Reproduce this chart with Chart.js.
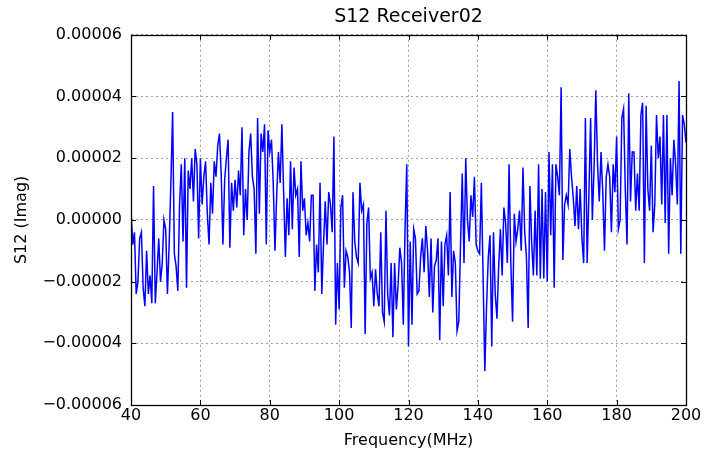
<!DOCTYPE html>
<html>
<head>
<meta charset="utf-8">
<script src="https://cdn.jsdelivr.net/npm/chart.js@4.4.1/dist/chart.umd.min.js"></script>
<style>
  html, body { margin: 0; padding: 0; background: #ffffff; }
  canvas { display: block; }
</style>
</head>
<body>
<canvas id="chart" width="711" height="455"></canvas>
<script>
// Imaginary part of S12 for Receiver02, in units of 1e-6.
// Sweep step is 0.5 MHz; one array per 20 MHz band.
const band40 = [3, -8, -4, -24, -20, -6, -4, -22, -28, -10, -24, -18, -27, 11, -27, -17, -6, -20, -14, 0,
                -3, -24, -8, 12, 35, -11, -15, -23, 5, 18, -7, 20, -22, 16, 10, 20, 6, 23, 18, -6];
const band60 = [20, 5, 14, 19, 2, -8, 12, 2, 19, 14, 24, 28, 15, -8, 13, 20, 26, -9, 12, 3,
                13, 4, 16, 8, 30, -5, 10, 0, 22, 28, 14, 10, -11, 33, 2, 28, 22, 31, -8, 29];
const band80 = [22, 26, 12, -10, 8, 22, 12, 31, 9, -12, 7, -5, 19, -3, 17, 8, 10, -12, 19, 3,
                7, -5, -1, -7, 8, 8, -23, -8, -17, 12, -24, -8, 6, -8, 9, 5, -4, 27, -34, -14];
const band100 = [-29, 4, 8, -22, -10, -12, -17, -35, 9, -7, -12, -14, 12, 3, 5, -37, -1, 4, -19, -17,
                 -28, -16, -24, -28, -4, -30, -33, 3, -24, -31, -14, -38, -14, -29, -21, -9, -14, -34, -3, 18];
const band120 = [-41, -7, -34, -3, -6, -24, -23, -12, -6, -17, -2, -10, -25, -6, -30, -15, -13, -6, -39, -7,
                 -28, -8, -5, -18, 9, -25, -10, -14, -36, -33, -8, 15, -14, 20, 0, -7, 8, 1, 14, -8];
const band140 = [-10, -11, 12, -18, -49, -28, -12, -5, -41, -4, -24, -32, -15, -3, -18, 4, -1, -14, 18, -14,
                 -33, 2, -7, -3, 3, -10, 17, -4, -12, -35, 11, -7, -18, 3, -18, 18, -19, 10, -19, 9];
const band160 = [-20, 22, -5, 18, -22, 18, 14, 8, 43, -13, 5, 8, 5, 23, 14, 7, -2, 11, -3, 10,
                 -6, -14, 33, -14, 8, 33, 0, 17, 42, 18, 6, 22, 9, -10, 14, 18, 14, -4, 18, 9];
const band180 = [27, -3, 0, 33, 36, 10, -8, 41, 6, 22, 22, 3, 15, 3, 34, 38, -14, 37, 10, 3,
                 24, -4, 5, 34, 20, 27, 5, 34, -1, 34, -11, 20, 8, 26, 18, 5, 45, -11, 34, 31, 25];

const sweepStartMHz = 40;
const sweepStepMHz = 0.5;

const xTicks = [40, 60, 80, 100, 120, 140, 160, 180, 200];
const yTicks = [-0.00006, -0.00004, -0.00002, 0, 0.00002, 0.00004, 0.00006];
const yTickLabels = ['\u22120.00006', '\u22120.00004', '\u22120.00002', '0.00000', '0.00002', '0.00004', '0.00006'];

const s12ImagMicro = [].concat(band40, band60, band80, band100, band120, band140, band160, band180);
const points = s12ImagMicro.map((v, i) => ({ x: sweepStartMHz + i * sweepStepMHz, y: v * 1e-6 }));

const FONT = "'DejaVu Sans', sans-serif";

// Black frame round the plot plus inward tick marks on all four sides
const framePlugin = {
  id: 'frame',
  afterDraw(chart) {
    const { ctx, chartArea: a, scales } = chart;
    const tick = 5;
    ctx.save();
    ctx.strokeStyle = '#000000';
    ctx.lineWidth = 1;
    ctx.beginPath();
    xTicks.forEach(v => {
      const px = Math.round(scales.x.getPixelForValue(v)) + 0.5;
      ctx.moveTo(px, a.bottom); ctx.lineTo(px, a.bottom - tick);
      ctx.moveTo(px, a.top); ctx.lineTo(px, a.top + tick);
    });
    yTicks.forEach(v => {
      const py = Math.round(scales.y.getPixelForValue(v)) + 0.5;
      ctx.moveTo(a.left, py); ctx.lineTo(a.left + tick, py);
      ctx.moveTo(a.right, py); ctx.lineTo(a.right - tick, py);
    });
    ctx.stroke();
    ctx.lineWidth = 1.3;
    ctx.strokeRect(Math.round(a.left) + 0.5, Math.round(a.top) + 0.5,
                   Math.round(a.right - a.left), Math.round(a.bottom - a.top));
    ctx.restore();
  }
};

new Chart(document.getElementById('chart'), {
  type: 'line',
  data: {
    datasets: [{
      label: 'S12 (Imag)',
      data: points,
      borderColor: '#0000ff',
      borderWidth: 1.5,
      pointRadius: 0,
      tension: 0,
      fill: false
    }]
  },
  options: {
    responsive: false,
    animation: false,
    layout: { padding: { left: 0, right: 25, top: 0, bottom: 0 } },
    plugins: {
      legend: { display: false },
      tooltip: { enabled: false },
      title: {
        display: true,
        text: 'S12 Receiver02',
        fullSize: false,
        color: '#000000',
        font: { family: FONT, size: 19, weight: 'normal' },
        padding: { top: 6, bottom: 6 }
      }
    },
    scales: {
      x: {
        type: 'linear',
        min: 40,
        max: 200,
        afterBuildTicks(scale) { scale.ticks = xTicks.map(v => ({ value: v })); },
        afterFit(scale) { scale.height = 50; },
        ticks: { color: '#000000', font: { family: FONT, size: 16 }, padding: 1, maxRotation: 0 },
        grid: { color: '#a0a0a0', lineWidth: 1, drawTicks: false },
        border: { display: false, dash: [2, 3] },
        title: {
          display: true,
          text: 'Frequency(MHz)',
          color: '#000000',
          font: { family: FONT, size: 16 },
          padding: { top: 0, bottom: 5 }
        }
      },
      y: {
        type: 'linear',
        min: -0.00006,
        max: 0.00006,
        afterBuildTicks(scale) { scale.ticks = yTicks.map(v => ({ value: v })); },
        afterFit(scale) { scale.width = 131; },
        ticks: {
          color: '#000000',
          font: { family: FONT, size: 16 },
          padding: 9,
          callback: (value, index) => yTickLabels[index]
        },
        grid: { color: '#a0a0a0', lineWidth: 1, drawTicks: false },
        border: { display: false, dash: [2, 3] },
        title: {
          display: true,
          text: 'S12 (Imag)',
          color: '#000000',
          font: { family: FONT, size: 16 },
          padding: { top: 12, bottom: 0 }
        }
      }
    }
  },
  plugins: [framePlugin]
});
</script>
</body>
</html>
